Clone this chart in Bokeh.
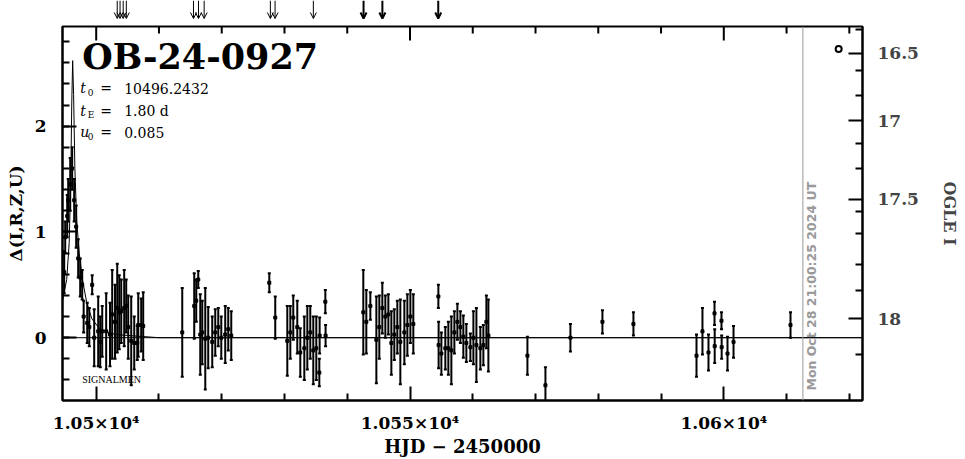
import numpy as np
from bokeh.plotting import figure
from bokeh.layouts import column
from bokeh.models import (Range1d, LinearAxis, SingleIntervalTicker, FixedTicker, Span,
                          Whisker, ColumnDataSource, Arrow, OpenHead, TeeHead)
from bokeh.core.properties import value
from bokeh.embed import file_html
from bokeh.resources import INLINE

# ---------------- data ----------------
hjd = [10494.9, 10495.06, 10495.38, 10495.54, 10495.86, 10496.17, 10496.49, 10496.81, 10497.13,
       10497.45, 10497.77, 10498.0, 10498.57, 10498.9, 10499.36, 10499.68, 10500.32, 10500.64,
       10500.96, 10501.59, 10502.2, 10502.55, 10503.0,
       10503.35, 10503.67, 10503.99, 10504.46, 10504.78, 10505.1, 10505.58, 10506.06, 10506.54,
       10506.70, 10507.17, 10507.49,
       10513.71, 10515.62, 10515.94, 10516.26, 10516.58, 10516.9, 10517.38, 10517.85, 10518.49,
       10518.97, 10519.45, 10519.93, 10520.56, 10521.04, 10521.52,
       10527.58, 10528.53, 10530.45, 10530.93, 10531.40, 10532.04, 10532.52, 10533.16, 10533.64,
       10534.11, 10534.59, 10535.07, 10535.55, 10535.60, 10536.51, 10536.55,
       10542.56, 10543.04, 10543.68, 10544.64, 10545.11, 10545.59, 10546.07, 10546.55, 10547.03,
       10547.50, 10547.98, 10548.46, 10549.1, 10549.58, 10550.06, 10550.53,
       10554.52, 10554.56, 10555.0, 10555.63, 10556.11, 10556.59, 10557.07, 10557.55, 10558.03,
       10558.50, 10558.98, 10559.62, 10560.1, 10560.58, 10561.21, 10561.69, 10562.17, 10562.49,
       10568.71, 10571.58, 10575.56, 10580.66, 10585.60,
       10595.65, 10596.60, 10597.56, 10598.52, 10598.55, 10599.63, 10599.66, 10600.59, 10601.55,
       10610.63]
delta = [0.62, 0.95, 1.15, 1.30, 1.45, 1.60, 1.30, 1.05, 0.75,
         0.57, 0.50, 0.20, 0.14, 0.10, 0.50, 0.00, 0.06, -0.04,
         0.06, 0.06, 0.03, 0.22, 0.15,
         0.28, 0.24, 0.25, 0.28, 0.30, 0.10, -0.03, -0.05, -0.05,
         0.12, 0.12, 0.11,
         0.05, 0.30, 0.35, 0.55, 0.03, 0.05, -0.01, 0.00, -0.04,
         0.05, 0.10, 0.00, 0.03, 0.08, 0.02,
         0.52, 0.19, -0.03, 0.05, 0.19, 0.10, -0.14, -0.10, 0.00,
         0.05, -0.12, -0.10, -0.33, 0.02, 0.34, 0.02,
         0.24, 0.15, 0.30, -0.02, 0.10, 0.28, 0.20, 0.22, -0.05,
         0.03, 0.10, -0.04, 0.05, 0.12, 0.20, 0.13,
         0.39, -0.07, -0.15, -0.10, -0.10, -0.12, 0.05, 0.15, 0.10,
         0.01, -0.05, -0.09, 0.00, -0.07, -0.10, -0.07, 0.15, 0.02,
         -0.17, -0.45, 0.00, 0.15, 0.13,
         -0.17, 0.06, -0.14, 0.23, -0.08, 0.16, -0.09, -0.15, -0.04,
         0.12]
err = [0.20, 0.15, 0.20, 0.20, 0.25, 0.20, 0.20, 0.20, 0.18,
       0.18, 0.14, 0.15, 0.19, 0.18, 0.09, 0.27, 0.33, 0.24,
       0.24, 0.36, 0.30, 0.42, 0.35,
       0.42, 0.35, 0.30, 0.36, 0.25, 0.30, 0.42, 0.25, 0.16,
       0.30, 0.25, 0.32,
       0.42, 0.31, 0.20, 0.08, 0.38, 0.30, 0.48, 0.29, 0.24,
       0.22, 0.18, 0.20, 0.27, 0.20, 0.23,
       0.09, 0.20, 0.33, 0.25, 0.21, 0.25, 0.23, 0.30, 0.30,
       0.25, 0.32, 0.30, 0.13, 0.17, 0.11, 0.10,
       0.40, 0.30, 0.13, 0.41, 0.30, 0.24, 0.20, 0.19, 0.30,
       0.24, 0.25, 0.40, 0.30, 0.29, 0.25, 0.28,
       0.11, 0.22, 0.20, 0.20, 0.25, 0.32, 0.20, 0.17, 0.15,
       0.20, 0.18, 0.13, 0.25, 0.35, 0.20, 0.19, 0.25, 0.34,
       0.18, 0.17, 0.13, 0.11, 0.11,
       0.20, 0.22, 0.17, 0.11, 0.16, 0.08, 0.11, 0.16, 0.15,
       0.12]

model_hjd = [10494.63, 10495.3, 10495.7, 10495.95, 10496.1, 10496.25, 10496.4, 10496.6, 10496.9,
             10497.3, 10497.8, 10498.5, 10499.3, 10500.6, 10503.0, 10510.0, 10622.1]
model_delta = [0.35, 0.55, 0.90, 1.50, 2.20, 2.62, 2.30, 1.60, 1.10,
               0.80, 0.55, 0.33, 0.18, 0.08, 0.03, 0.0, 0.0]

arrow_thin = [10503.35, 10503.8, 10504.3, 10504.8, 10515.5, 10516.3, 10517.2, 10527.75, 10528.5, 10534.6]
arrow_bold = [10542.6, 10545.6, 10554.5]

x_major = [10500, 10550, 10600]
x_minor = [10510, 10520, 10530, 10540, 10560, 10570, 10580, 10590, 10610, 10620]
x_labels = ["1.05×10⁴", "1.055×10⁴", "1.06×10⁴"]

ogle_labels = ["16.5", "17", "17.5", "18"]
ogle_major = [2.69, 2.05, 1.31, 0.18]
ogle_minor = [2.91, 2.53, 2.29, 1.84, 1.60, 1.19, 0.99, 0.69, 0.45, -0.16]

ogle_pt_hjd = [10618.3]
ogle_pt_delta = [2.73]

now_hjd = 10612.6
now_text = "Mon Oct 28 21:00:25 2024 UT"

XMIN, XMAX = 10494.63, 10622.1
YMIN, YMAX = -0.594, 2.943

SERIF = "DejaVu Serif"
FRAME_H = 375.0
UNIT_PX = FRAME_H / (YMAX - YMIN)

xr = Range1d(XMIN, XMAX)

# ---------------- top strip with arrows ----------------
top = figure(width=965, height=24, x_range=xr, y_range=Range1d(0, 1),
             output_backend="svg", toolbar_location=None,
             min_border_left=62, min_border_right=103, min_border_top=0, min_border_bottom=0)
top.axis.visible = False
top.grid.visible = False
top.outline_line_color = None
for h in arrow_thin:
    top.add_layout(Arrow(x_start=h, y_start=1.0, x_end=h, y_end=0.25, line_width=1,
                         end=OpenHead(size=6, line_width=1)))
for h in arrow_bold:
    top.add_layout(Arrow(x_start=h, y_start=1.0, x_end=h, y_end=0.25, line_width=2,
                         end=OpenHead(size=6, line_width=2)))

# ---------------- main plot ----------------
p = figure(width=965, height=435, x_range=xr, y_range=Range1d(YMIN, YMAX),
           output_backend="svg", toolbar_location=None,
           min_border_left=62, min_border_right=103, min_border_top=2, min_border_bottom=58)
p.grid.visible = False
p.outline_line_color = "black"
p.outline_line_width = 2

xticker = FixedTicker(ticks=x_major, minor_ticks=x_minor)
yticker = SingleIntervalTicker(interval=1, num_minor_ticks=5)

xa = p.xaxis[0]
xa.ticker = xticker
xa.major_label_overrides = {t: l for t, l in zip(x_major, x_labels)}
xa.axis_label = "HJD − 2450000"

ya = p.yaxis[0]
ya.ticker = yticker
ya.axis_label = "Δ(I,R,Z,U)"

for ax in (xa, ya):
    ax.major_tick_in = 14
    ax.major_tick_out = 0
    ax.minor_tick_in = 7
    ax.minor_tick_out = 0
    ax.axis_line_width = 2
    ax.major_tick_line_width = 2
    ax.minor_tick_line_width = 2
    ax.major_label_text_font = SERIF
    ax.major_label_text_font_style = "bold"
    ax.major_label_text_font_size = "17px"
    ax.major_label_text_color = "black"
    ax.axis_label_text_font = SERIF
    ax.axis_label_text_font_style = "bold"
    ax.axis_label_text_font_size = "17px"
    ax.axis_label_text_color = "black"
xa.axis_label_text_font_size = "18px"
xa.major_label_standoff = 12
xa.axis_label_standoff = 0
ya.major_label_standoff = 16
ya.axis_label_standoff = 6

rax = LinearAxis(ticker=FixedTicker(ticks=ogle_major, minor_ticks=ogle_minor),
                 major_label_overrides={t: l for t, l in zip(ogle_major, ogle_labels)},
                 axis_label="OGLE I",
                 major_tick_in=14, major_tick_out=0, minor_tick_in=7, minor_tick_out=0,
                 axis_line_width=2, major_tick_line_width=2, minor_tick_line_width=2,
                 major_label_text_font=SERIF, major_label_text_font_style="bold",
                 major_label_text_font_size="17px", major_label_standoff=15,
                 axis_label_text_font=SERIF, axis_label_text_font_style="bold",
                 axis_label_text_font_size="16px", axis_label_standoff=18)
p.add_layout(rax, "right")

# inward ticks along the top edge (no labels)
maj_len = 14 / UNIT_PX
min_len = 7 / UNIT_PX
p.segment(x0=x_major, y0=[YMAX] * len(x_major), x1=x_major, y1=[YMAX - maj_len] * len(x_major),
          line_color="black", line_width=2)
p.segment(x0=x_minor, y0=[YMAX] * len(x_minor), x1=x_minor, y1=[YMAX - min_len] * len(x_minor),
          line_color="black", line_width=2)

# baseline / model
p.add_layout(Span(location=0, dimension="width", line_color="black", line_width=1))
p.line(model_hjd, model_delta, line_color="black", line_width=1)

# data with error bars
src = ColumnDataSource(dict(x=hjd, y=delta,
                            lo=[d - e for d, e in zip(delta, err)],
                            hi=[d + e for d, e in zip(delta, err)]))
p.add_layout(Whisker(source=src, base="x", upper="hi", lower="lo", dimension="height",
                     line_color="black", line_width=2,
                     upper_head=TeeHead(size=3, line_width=2, line_color="black"),
                     lower_head=TeeHead(size=3, line_width=2, line_color="black")))
p.scatter("x", "y", source=src, marker="square", size=3, color="black")

# OGLE small marker
p.scatter(ogle_pt_hjd, ogle_pt_delta, marker="circle", size=6, fill_color=None,
          line_color="black", line_width=2)

# "now" line and date text
p.add_layout(Span(location=now_hjd, dimension="height", line_color="#999999", line_width=1))

def px2x(px):
    return 10500 + (px - 96) / 6.273

def py2y(py):
    return (338 - py) / 106.0

p.text(x=[now_hjd + 1.3], y=[py2y(391)], text=[now_text], angle=np.pi / 2,
       text_font=value("DejaVu Sans"), text_font_style="bold", text_font_size="12.5px",
       text_color="#999999", text_align="left", text_baseline="middle")

# title and parameters
p.text(x=[px2x(82)], y=[py2y(56)], text=["OB-24-0927"], text_font=value(SERIF),
       text_font_style="bold", text_font_size="35px", text_color="black",
       text_align="left", text_baseline="middle")

par_rows = [("t", "0", "10496.2432", 88), ("t", "E", "1.80 d", 111), ("u", "0", "0.085", 132)]
for sym, sub, rest, py in par_rows:
    p.text(x=[px2x(80)], y=[py2y(py)], text=[sym], text_font=value(SERIF),
           text_font_style="italic", text_font_size="14px", text_color="black",
           text_align="left", text_baseline="middle")
    p.text(x=[px2x(87.5)], y=[py2y(py + 4)], text=[sub], text_font=value(SERIF),
           text_font_size="9px", text_color="black", text_align="left", text_baseline="middle")
    p.text(x=[px2x(100)], y=[py2y(py)], text=["="], text_font=value(SERIF),
           text_font_size="14px", text_color="black", text_align="left", text_baseline="middle")
    p.text(x=[px2x(124)], y=[py2y(py)], text=[rest], text_font=value(SERIF),
           text_font_size="14px", text_color="black", text_align="left", text_baseline="middle")

p.text(x=[px2x(82)], y=[py2y(380)], text=["SIGNALMEN"], text_font=value("Liberation Serif"),
       text_font_size="10px", text_color="black", text_align="left", text_baseline="middle")

layout = column(top, p, spacing=0)
open("out.html", "w").write(file_html(layout, INLINE))
